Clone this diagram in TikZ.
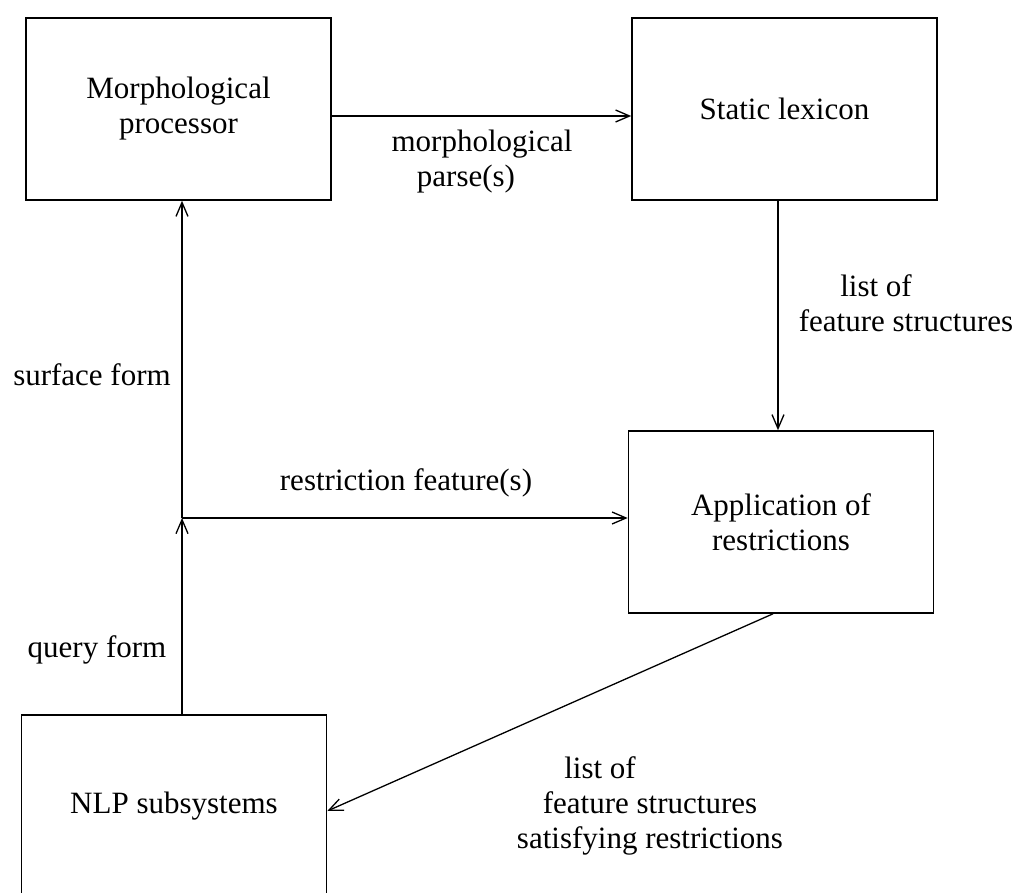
\documentclass[tikz,border=0pt]{standalone}
\usepackage{fontspec}
\setmainfont{Liberation Serif}
\usetikzlibrary{arrows.meta}
\begin{document}
\begin{tikzpicture}[x=1pt,y=-1pt,
  txt/.style={font=\fontsize{31}{35}\selectfont},
  box/.style={draw,line width=1.6pt,minimum width=305pt,minimum height=182pt,inner sep=0pt,align=center,txt},
  lbl/.style={inner sep=0pt,align=center,txt},
  conn/.style={line width=1.3pt,-{Straight Barb[length=14pt,width=12pt,line width=1.3pt]}}]
\clip (0,0) rectangle (1013,893);
\useasboundingbox (0,0) rectangle (1013,893);
\node[box] (m) at (178.5,109) {Morphological\\processor};
\node[box] (s) at (784.5,109) {Static lexicon};
\node[box] (a) at (781,522) {Application of\\restrictions};
\node[box] (n) at (174,806) {NLP subsystems};
\coordinate (h1) at (0,116);
\coordinate (j) at (182,518);
\coordinate (v2) at (778,0);
\coordinate (d1) at (773,0);
\coordinate (d2) at (0,811);
\draw[conn] (m.east |- h1) -- (s.west |- h1);
\draw[conn] (n.north -| j) -- (j);
\draw[conn] (j) -- (m.south -| j);
\draw[conn] (j) -- (a.west |- j);
\draw[conn] (s.south -| v2) -- (a.north -| v2);
\draw[conn] (a.south -| d1) -- (n.east |- d2);
\node[lbl] (l1) at (482,162) {morphological\\parse(s)\hspace*{32pt}};
\node[lbl] (l2) at (906,303) {list of\hspace*{60pt}\\feature structures};
\node[lbl] (l3) at (92,375) {surface form};
\node[lbl] (l4) at (406,483) {restriction feature(s)};
\node[lbl] (l5) at (97,650) {query form};
\node[lbl] (l6) at (650,806) {list of\hspace*{100pt}\\feature structures\\satisfying restrictions};
\end{tikzpicture}
\end{document}
